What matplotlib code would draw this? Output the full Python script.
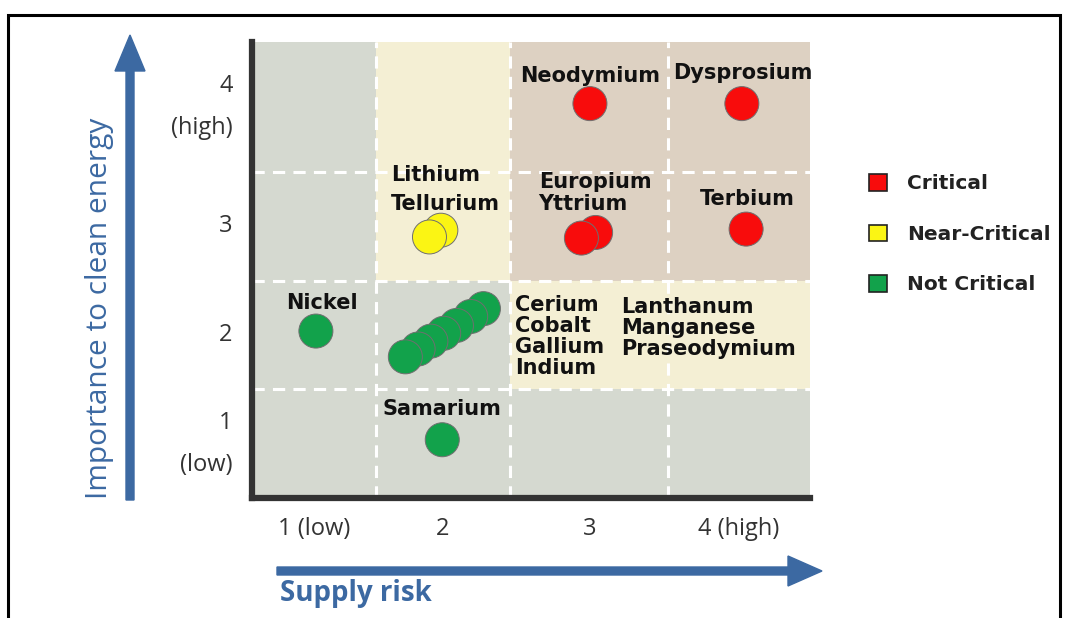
import matplotlib
matplotlib.use('Agg')
import matplotlib.pyplot as plt
from matplotlib.patches import Rectangle, FancyArrow, Patch

# elements, drawn from upper right to lower left so the lower-left circle sits on top
elements = ['Neodymium', 'Dysprosium', 'Europium', 'Yttrium', 'Terbium',
            'Lithium', 'Tellurium', 'Nickel',
            'Praseodymium', 'Manganese', 'Lanthanum', 'Indium', 'Gallium', 'Cobalt', 'Cerium',
            'Samarium']
supply_risk = [2.95, 4.02, 2.99, 2.89, 4.05,
               1.90, 1.82, 1.02,
               2.20, 2.11, 2.01, 1.92, 1.83, 1.74, 1.65,
               1.91]
importance = [4.03, 4.03, 2.88, 2.83, 2.91,
              2.90, 2.84, 2.00,
              2.20, 2.13, 2.05, 1.98, 1.91, 1.84, 1.77,
              1.03]
status = ['Critical'] * 5 + ['Near-Critical'] * 2 + ['Not Critical'] * 9

categories = ['Critical', 'Near-Critical', 'Not Critical']
cat_colors = {'Critical': '#f80c0c', 'Near-Critical': '#fbf514', 'Not Critical': '#12a24b'}

x_ticklabels = ['1 (low)', '2', '3', '4 (high)']
y_ticklabels = ['1\n(low)', '2', '3', '4\n(high)']

# zone grid boundaries and zone type per cell (rows bottom -> top)
x_edges = [0.57, 1.44, 2.39, 3.5, 4.5]
y_edges = [0.51, 1.48, 2.45, 3.42, 4.58]
zones = [['low', 'low', 'low', 'low'],
         ['low', 'low', 'mid', 'mid'],
         ['low', 'mid', 'high', 'high'],
         ['low', 'mid', 'high', 'high']]
zone_colors = {'low': '#d5d9d0', 'mid': '#f4efd4', 'high': '#ddd1c2'}

group_left = ['Cerium', 'Cobalt', 'Gallium', 'Indium']
group_right = ['Lanthanum', 'Manganese', 'Praseodymium']

blue = '#3c69a2'
label_font = 'DejaVu Sans'
lab_size = 15

fig = plt.figure(figsize=(10.68, 6.18), dpi=100)
ax = fig.add_axes([252 / 1068, 1 - 498 / 618, (810 - 252) / 1068, (498 - 42) / 618])
ax.set_xlim(x_edges[0], x_edges[-1])
ax.set_ylim(y_edges[0], y_edges[-1])

for i, row in enumerate(zones):
    for j, z in enumerate(row):
        ax.add_patch(Rectangle((x_edges[j], y_edges[i]), x_edges[j + 1] - x_edges[j],
                               y_edges[i + 1] - y_edges[i], facecolor=zone_colors[z],
                               edgecolor='none', zorder=0))
for xe in x_edges[1:-1]:
    ax.axvline(xe, color='white', lw=2.2, ls=(0, (4, 2.7)), zorder=1)
for ye in y_edges[1:-1]:
    ax.axhline(ye, color='white', lw=2.2, ls=(0, (4, 2.7)), zorder=1)

ax.scatter(supply_risk, importance, s=600, c=[cat_colors[s] for s in status],
           edgecolors='#6f6f6f', linewidths=0.7, zorder=3)

# labels (offsets in points from the marker)
single = {'Neodymium': (0, 20), 'Dysprosium': (1, 22), 'Terbium': (1, 22),
          'Nickel': (4, 20), 'Samarium': (0, 22)}
left = {'Europium': (-41, 36), 'Yttrium': (-31, 24.5), 'Lithium': (-36, 40), 'Tellurium': (-28, 24)}
for name, x, y in zip(elements, supply_risk, importance):
    if name in single:
        ax.annotate(name, (x, y), xytext=single[name], textcoords='offset points',
                    ha='center', va='center', fontsize=lab_size, fontweight='bold',
                    family=label_font, color='#111111', zorder=4)
    elif name in left:
        ax.annotate(name, (x, y), xytext=left[name], textcoords='offset points',
                    ha='left', va='center', fontsize=lab_size, fontweight='bold',
                    family=label_font, color='#111111', zorder=4)

ax.text(x_edges[2] + 0.03, 2.32, '\n'.join(group_left), ha='left', va='top',
        fontsize=lab_size, fontweight='bold', family=label_font, color='#111111', linespacing=1.06)
ax.text(3.17, 2.30, '\n'.join(group_right), ha='left', va='top',
        fontsize=lab_size, fontweight='bold', family=label_font, color='#111111', linespacing=1.06)

for sp in ['top', 'right']:
    ax.spines[sp].set_visible(False)
for sp in ['left', 'bottom']:
    ax.spines[sp].set_color('#333333')
    ax.spines[sp].set_linewidth(4.5)
ax.set_xticks([(a + b) / 2 for a, b in zip(x_edges[:-1], x_edges[1:])])
ax.set_xticklabels(x_ticklabels)
ax.set_yticks([(a + b) / 2 for a, b in zip(y_edges[:-1], y_edges[1:])])
ax.set_yticklabels(y_ticklabels)
ax.tick_params(length=0, labelsize=17, labelcolor='#333333')
ax.tick_params(axis='x', pad=14)
ax.tick_params(axis='y', pad=14)
for t in ax.get_xticklabels() + ax.get_yticklabels():
    t.set_family('Open Sans')
xl = ax.get_xticklabels()
xl[0].set_x(0.9)
for t in ax.get_yticklabels():
    t.set_linespacing(2.0)
    t.set_va('center')

# blue axis arrows
fig.add_artist(FancyArrow(1.30, 1.18, 0, 4.65, width=0.08, head_width=0.30, head_length=0.36,
                          length_includes_head=True, color=blue, transform=fig.dpi_scale_trans))
fig.add_artist(FancyArrow(2.77, 0.47, 5.45, 0, width=0.08, head_width=0.30, head_length=0.34,
                          length_includes_head=True, color=blue, transform=fig.dpi_scale_trans))
fig.text(1.00, 3.10, 'Importance to clean energy', rotation=90, ha='center', va='center',
         fontsize=21.5, color=blue, family='Open Sans', transform=fig.dpi_scale_trans)
fig.text(2.80, 0.24, 'Supply risk', ha='left', va='center', fontsize=20, fontweight='bold',
         color=blue, family='Open Sans', transform=fig.dpi_scale_trans)

handles = [Patch(facecolor=cat_colors[c], edgecolor='#222222', linewidth=1.2) for c in categories]
fig.legend(handles, categories, loc='upper left', bbox_to_anchor=(869 / 1068, 1 - 174 / 618),
           frameon=False, borderpad=0, borderaxespad=0, handlelength=0.9, handleheight=0.9,
           handletextpad=1.0, labelspacing=1.55,
           prop={'family': label_font, 'weight': 'bold', 'size': 14.5}, labelcolor='#222222')

# outer border
fig.add_artist(Rectangle((8 / 1068, -0.1), (1060 - 8) / 1068, 1.1 - 15 / 618, fill=False,
                         edgecolor='black', linewidth=2.2, transform=fig.transFigure))

fig.savefig('out.png', dpi=100)
